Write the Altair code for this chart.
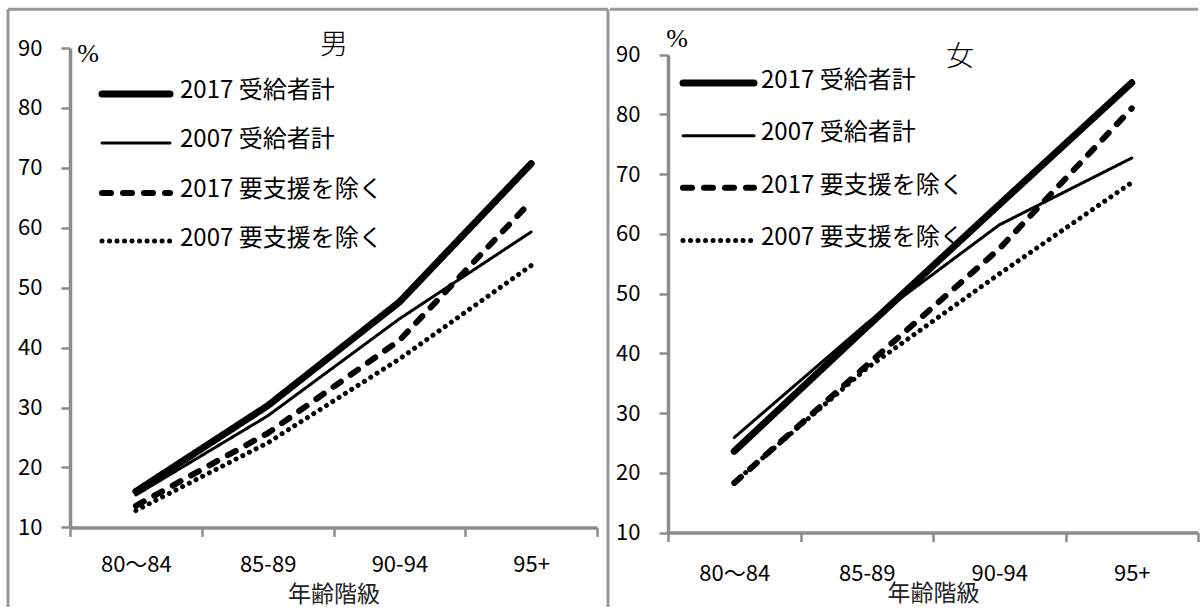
import altair as alt
import pandas as pd

ages = ["80〜84", "85-89", "90-94", "95+"]
series_names = ["2017 受給者計", "2007 受給者計", "2017 要支援を除く", "2007 要支援を除く"]

male_2017_total = [16.0, 30.3, 47.6, 70.7]
male_2007_total = [15.4, 28.6, 44.8, 59.3]
male_2017_excl = [13.6, 25.7, 41.2, 64.4]
male_2007_excl = [12.8, 24.1, 38.1, 53.7]

female_2017_total = [23.6, 44.4, 64.9, 85.3]
female_2007_total = [25.9, 45.0, 61.5, 72.7]
female_2017_excl = [18.3, 38.0, 57.5, 81.0]
female_2007_excl = [18.4, 37.5, 53.3, 68.6]

y_ticks = [10, 20, 30, 40, 50, 60, 70, 80, 90]

GRAY = "#8c8c8c"
FONT = "Noto Sans CJK JP"
widths = [7, 3, 6, 5]
dashes = [[1, 0], [1, 0], [9, 12], [0.01, 7.5]]


def one():
    return alt.Data(values=[{"k": 1}])


def panel(title, series_values, width, height, y_range, label_pad, title_y,
          leg_x0, leg_x1, leg_tx, leg_rows, leg_text_rows, title_xy, pct_xy, borders):
    rows = []
    for name, vals in zip(series_names, series_values):
        for a, v in zip(ages, vals):
            rows.append({"age": a, "series": name, "value": v})
    df = pd.DataFrame(rows)

    yscale = alt.Scale(domain=[10, 90], nice=False, zero=False) if y_range is None else \
        alt.Scale(domain=[10, 90], nice=False, zero=False, range=y_range)
    xscale = alt.Scale(type="band", domain=ages, paddingInner=0, paddingOuter=0)
    xaxis = alt.Axis(tickBand="extent", tickSize=9, tickWidth=2.5, tickColor=GRAY,
                     domainColor=GRAY, domainWidth=3.5, labelAngle=0, labelFont=FONT,
                     labelFontSize=22, labelColor="black", labelPadding=label_pad,
                     title="年齢階級", titleFont=FONT, titleFontSize=23,
                     titleFontWeight="normal", titleColor="#222222",
                     titleY=title_y, titleBaseline="middle", grid=False)
    yaxis = alt.Axis(values=y_ticks, tickSize=9, tickWidth=2.5, tickColor=GRAY,
                     domainColor=GRAY, domainWidth=3.5, labelFont=FONT, labelFontSize=22,
                     labelColor="black", labelPadding=19, title=None, grid=False)

    layers = []
    for i, name in enumerate(series_names):
        layers.append(
            alt.Chart(df[df["series"] == name]).mark_line(
                color="black", strokeWidth=widths[i], strokeDash=dashes[i],
                strokeCap="round", strokeJoin="round"
            ).encode(
                x=alt.X("age:N", sort=ages, bandPosition=0.5, scale=xscale, axis=xaxis),
                y=alt.Y("value:Q", scale=yscale, axis=yaxis),
            )
        )
    # legend
    for i, name in enumerate(series_names):
        layers.append(
            alt.Chart(one()).mark_rule(
                color="black", strokeWidth=widths[i], strokeDash=dashes[i], strokeCap="round"
            ).encode(x=alt.value(leg_x0), x2=alt.value(leg_x1),
                     y=alt.value(leg_rows[i]), y2=alt.value(leg_rows[i]))
        )
        layers.append(
            alt.Chart(one()).mark_text(
                font=FONT, fontSize=24, align="left", baseline="middle", color="black"
            ).encode(x=alt.value(leg_tx), y=alt.value(leg_text_rows[i]), text=alt.value(name))
        )
    # panel title and unit
    layers.append(
        alt.Chart(one()).mark_text(font=FONT, fontSize=28, fontWeight=300, align="center",
                                   baseline="middle", color="black")
        .encode(x=alt.value(title_xy[0]), y=alt.value(title_xy[1]), text=alt.value(title))
    )
    layers.append(
        alt.Chart(one()).mark_text(font="Liberation Serif", fontSize=26, align="center",
                                   baseline="middle", color="black")
        .encode(x=alt.value(pct_xy[0]), y=alt.value(pct_xy[1]), text=alt.value("%"))
    )
    # panel border
    for (bx, bx2, by, by2) in borders:
        layers.append(
            alt.Chart(one()).mark_rule(color="#999999", strokeWidth=3)
            .encode(x=alt.value(bx), x2=alt.value(bx2), y=alt.value(by), y2=alt.value(by2))
        )
    return alt.layer(*layers).properties(width=width, height=height)


left = panel(
    "男",
    [male_2017_total, male_2007_total, male_2017_excl, male_2007_excl],
    527, 479.4, None, 18, 67,
    32, 100, 110,
    [46, 95, 145, 193], [43, 92, 142, 191],
    (264, -2.3), (18, 6),
    [(-62, -62, -38.8, 559), (-62, 538, -38.8, -38.8), (538, 538, -38.8, 559)],
)

right = panel(
    "女",
    [female_2017_total, female_2007_total, female_2017_excl, female_2007_excl],
    530, 484.5, [484.5, 6.7], 22, 61,
    15, 86, 93,
    [35.1, 87.8, 139.7, 192.4], [32.5, 85, 137.5, 190],
    (292, 10), (9, -9),
    [(-58, 530, -38.8, -38.8)],
)

chart = alt.hconcat(
    left, right, spacing=71, bounds="flush",
    padding={"left": 6, "top": 7, "right": 0, "bottom": 0},
).configure_view(strokeWidth=0)

chart.save("out.html", embed_options={"renderer": "svg", "actions": False})
